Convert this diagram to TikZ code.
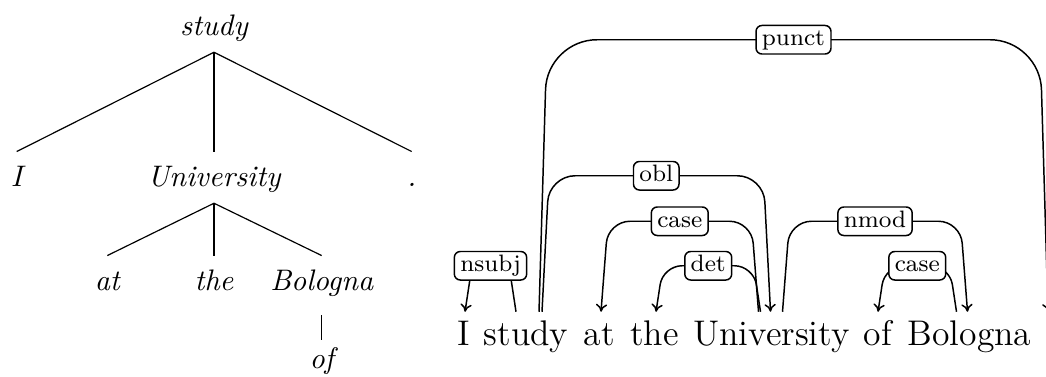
\documentclass[tikz,border=0pt]{standalone}
\usetikzlibrary{calc, arrows.meta}

\begin{document}
\begin{tikzpicture}[x=0.3367pt, y=-0.3367pt,
% node styles
tnode/.style={font=\itshape, inner sep=0pt, text height=11.4pt, text depth=5.6pt, anchor=base},
word/.style={font=\large, inner sep=0pt, text height=11pt, anchor=base},
rel/.style={draw, fill=white, rounded corners=2pt, font=\footnotesize, inner xsep=2pt, inner ysep=0pt, text height=6.8pt, text depth=2.8pt},
dep/.style={-{To[length=2.6pt, width=3.8pt]}, line width=0.5pt}
]

\path[use as bounding box] (0,0) rectangle (1046,376);
\clip (0,0) rectangle (1046,376);

% tree nodes
\node[tnode] (t_study) at (214,35) {study};
\node[tnode] (t_i) at (16.7,186) {I};
\node[tnode] (t_univ) at (214,186) {University};
\node[tnode] (t_dot) at (411.7,186) {.};
\node[tnode] (t_at) at (107.3,290) {at};
\node[tnode] (t_the) at (214,290) {the};
\node[tnode] (t_bologna) at (321.7,290) {Bologna};
\node[tnode] (t_of) at (321.7,368) {of};

% tree lines
\draw (t_study.south) -- (t_i.north);
\draw (t_study.south) -- (t_univ.north);
\draw (t_study.south) -- (t_dot.north);
\draw (t_univ.south) -- (t_at.north);
\draw (t_univ.south) -- (t_the.north);
\draw (t_univ.south) -- (t_bologna.north);
\draw[shorten <=2.7pt, shorten >=-2pt] (t_bologna.south) -- (t_of.north);

% words
\node[word] (w_i) at (464,345) {I};
\node[word] (w_study) at (526,345) {study};
\node[word] (w_at) at (599.5,345) {at};
\node[word] (w_the) at (654.5,345) {the};
\node[word] (w_univ) at (771.5,345) {University};
\node[word] (w_of) at (878,345) {of};
\node[word] (w_bologna) at (969.5,345) {Bologna};
\node[word] (w_dot) at (1052,345) {.};

% arcs between words
\draw[dep, rounded corners=3pt] ($(w_study.north)+(-10,0)$) -- ++(-7,-46)
  -- node[rel] (l_nsubj) {nsubj} ($(w_i.north)+(8,-46)$) -- ($(w_i.north)+(1,0)$);
\draw[dep, rounded corners=16.8pt] ($(w_study.north)+(13,0)$) -- ++(8,-272)
  -- node[rel] (l_punct) {punct} ($(w_dot.north)+(-12,-272)$) -- ($(w_dot.north)+(-4,0)$);
\draw[dep, rounded corners=8.8pt] ($(w_study.north)+(16,0)$) -- ++(7,-136)
  -- node[rel] (l_obl) {obl} ($(w_univ.north)+(-8,-136)$) -- ($(w_univ.north)+(-1,0)$);
\draw[dep, rounded corners=7.4pt] ($(w_univ.north)+(-13,0)$) -- ++(-7,-90.5)
  -- node[rel] (l_case1) {case} ($(w_at.north)+(8.5,-90.5)$) -- ($(w_at.north)+(1.5,0)$);
\draw[dep, rounded corners=6.4pt] ($(w_univ.north)+(-11,0)$) -- ++(-7,-46)
  -- node[rel] (l_det) {det} ($(w_the.north)+(8.5,-46)$) -- ($(w_the.north)+(1.5,0)$);
\draw[dep, rounded corners=7.4pt] ($(w_univ.north)+(11,0)$) -- ++(7,-90.5)
  -- node[rel] (l_nmod) {nmod} ($(w_bologna.north)+(-9,-90.5)$) -- ($(w_bologna.north)+(-2,0)$);
\draw[dep, rounded corners=6.4pt] ($(w_bologna.north)+(-13,0)$) -- ++(-7,-46)
  -- node[rel] (l_case2) {case} ($(w_of.north)+(7,-46)$) -- (w_of.north);

\end{tikzpicture}
\end{document}
